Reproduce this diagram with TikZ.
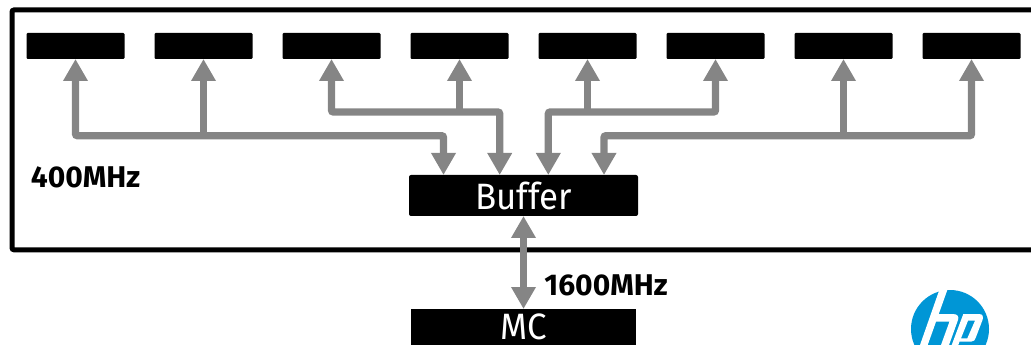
\documentclass[tikz,border=0pt]{standalone}
\usepackage{fontspec}
\setmainfont{Fira Sans}
\newfontfamily\boxfont[FakeStretch=0.95]{Fira Sans}
\definecolor{Wire}{HTML}{858585}
\definecolor{HpBlue}{HTML}{0096D6}
\usetikzlibrary{arrows.meta,positioning}
\tikzset{
  rambox/.style={fill=black,rounded corners=0.8pt,minimum width=73.5pt,minimum height=19.5pt,inner sep=0pt,outer sep=0pt},
  ctrlbox/.style={fill=black,text=white,rounded corners=1.5pt,minimum height=30.75pt,inner sep=0pt,outer sep=0pt,font=\boxfont\fontsize{27.5}{27.5}\selectfont},
  rate/.style={font=\fontsize{22.5}{22.5}\selectfont\bfseries,inner sep=0pt},
  link/.style={draw=Wire,line width=5.5pt,rounded corners=1.5pt,{Triangle[length=16.5pt,width=17.5pt]}-{Triangle[length=16.5pt,width=17.5pt]}},
  branch/.style={draw=Wire,line width=5.5pt,-{Triangle[length=16.5pt,width=17.5pt]}}
}
\begin{document}
\begin{tikzpicture}[x=0.75pt,y=-0.75pt,node distance=22.5pt]
\clip (0,0) rectangle (1031,345);
\draw[line width=3.75pt,rounded corners=1.5pt] (1060,10) -- (12,10) -- (12,249.8) -- (1060,249.8);
\node[rambox] (ram1) at (75.5,46) {};
\node[rambox,right=of ram1] (ram2) {};
\node[rambox,right=of ram2] (ram3) {};
\node[rambox,right=of ram3] (ram4) {};
\node[rambox,right=of ram4] (ram5) {};
\node[rambox,right=of ram5] (ram6) {};
\node[rambox,right=of ram6] (ram7) {};
\node[rambox,right=of ram7] (ram8) {};
\node[ctrlbox,minimum width=171.75pt] (buffer) at (523.5,195.5) {\raisebox{-1pt}{Buffer}};
\node[ctrlbox,minimum width=169pt,minimum height=27pt,rounded corners=0pt] (mc) at (523.5,327) {\raisebox{-1.5pt}{MC}};
\node[rate] (slow) at (85.5,177.5) {400MHz};
\node[rate] (fast) at (606,285.5) {1600MHz};
\coordinate (inA) at (443.5,175);
\coordinate (inB) at (499.7,175);
\coordinate (inC) at (548.3,175);
\coordinate (inD) at (604,175);
\coordinate (busA) at (0,135.7);
\coordinate (busB) at (0,112);
\draw[link] (ram1.south) -- (ram1|-busA) -- (inA|-busA) -- (inA);
\draw[link] (ram3.south) -- (ram3|-busB) -- (inB|-busB) -- (inB);
\draw[link] (ram6.south) -- (ram6|-busB) -- (inC|-busB) -- (inC);
\draw[link] (ram8.south) -- (ram8|-busA) -- (inD|-busA) -- (inD);
\draw[branch] (ram2|-busA) -- (ram2.south);
\draw[branch] (ram4|-busB) -- (ram4.south);
\draw[branch] (ram5|-busB) -- (ram5.south);
\draw[branch] (ram7|-busA) -- (ram7.south);
\draw[link,rounded corners=0pt] (buffer.south) -- (mc.north);
% logo
\fill[HpBlue] (950,329) circle (39);
\fill[white] (939.3,290) -- (947.3,290) -- (927.7,345) -- (920,345) -- cycle;
\fill[white] (935.5,314) -- (953,314) .. controls (958,314) and (959,317) .. (958,320) -- (949,345) -- (941,345) -- (949.5,321.5) -- (933,321.5) -- cycle;
\fill[white,even odd rule] (963.3,314) -- (979,314) .. controls (983,314) and (983.5,317) .. (982.5,320) -- (976,337) .. controls (975,340) and (974,341.7) .. (971,341.7) -- (959.5,341.7) -- (958.3,345) -- (951.7,345) -- cycle (968,320.7) -- (975,320.7) -- (967.3,338.3) -- (961,338.3) -- cycle;
\end{tikzpicture}
\end{document}
